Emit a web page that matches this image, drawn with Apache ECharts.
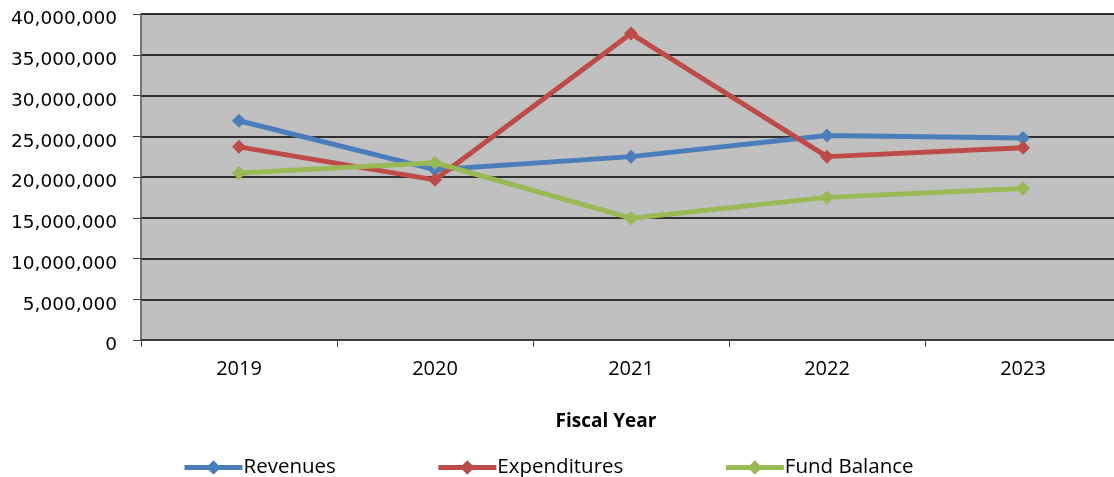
<!DOCTYPE html>
<html>
<head>
<meta charset="utf-8">
<script src="https://cdn.jsdelivr.net/npm/echarts@6/dist/echarts.min.js"></script>
<style>html,body{margin:0;padding:0;background:#fff}#c{width:1114px;height:477px}</style>
</head>
<body>
<div id="c"></div>
<script>
var categories = ['2019', '2020', '2021', '2022', '2023'];
var revenues = [26900000, 20900000, 22500000, 25100000, 24800000];
var expenditures = [23700000, 19650000, 37600000, 22500000, 23600000];
var fundBalance = [20500000, 21750000, 14950000, 17500000, 18600000];
var yTicks = { min: 0, max: 40000000, interval: 5000000 };

var chart = echarts.init(document.getElementById('c'));
function mk(name, data, color) {
  return {
    name: name, type: 'line', data: data,
    symbol: 'diamond', symbolSize: 14,
    lineStyle: { width: 5, color: color },
    itemStyle: { color: color },
    emphasis: { disabled: true }
  };
}
chart.setOption({
  animation: false,
  grid: {
    left: 141, top: 14, width: 980, bottom: 137,
    outerBoundsMode: 'none',
    show: true, backgroundColor: '#c0c0c0', borderColor: '#808080', borderWidth: 1
  },
  legend: {
    left: 177, top: 452,
    itemWidth: 58, itemHeight: 18, itemGap: 100,
    lineStyle: { width: 5 },
    textStyle: { fontFamily: 'Open Sans', fontSize: 20.5, color: '#000', padding: [0, 0, 0, -4] },
    data: ['Revenues', 'Expenditures', 'Fund Balance']
  },
  xAxis: {
    type: 'category', data: categories, boundaryGap: true,
    name: 'Fiscal Year', nameLocation: 'middle', nameGap: 72,
    nameTextStyle: { fontFamily: 'Open Sans', fontWeight: 'bold', fontSize: 19, color: '#000', padding: [0, 50, 0, 0] },
    axisLine: { lineStyle: { color: '#404040', width: 1.5 } },
    axisTick: { show: true, length: 7, lineStyle: { color: '#404040' } },
    axisLabel: { fontFamily: 'Open Sans', fontSize: 20, color: '#000', margin: 19 }
  },
  yAxis: {
    type: 'value', min: yTicks.min, max: yTicks.max, interval: yTicks.interval,
    axisLine: { show: true, lineStyle: { color: '#606060', width: 1.5 } },
    axisTick: { show: true, length: 8, lineStyle: { color: '#404040' } },
    splitLine: { lineStyle: { color: '#000', width: 1.5 } },
    axisLabel: {
      fontFamily: 'DejaVu Sans', fontSize: 18.5, color: '#000', margin: 24,
      verticalAlign: 'top', lineHeight: 11,
      formatter: function (v) { return v.toLocaleString('en-US'); }
    }
  },
  series: [
    mk('Revenues', revenues, '#4a7ebb'),
    mk('Expenditures', expenditures, '#be4b48'),
    mk('Fund Balance', fundBalance, '#98b954')
  ]
});
</script>
</body>
</html>
